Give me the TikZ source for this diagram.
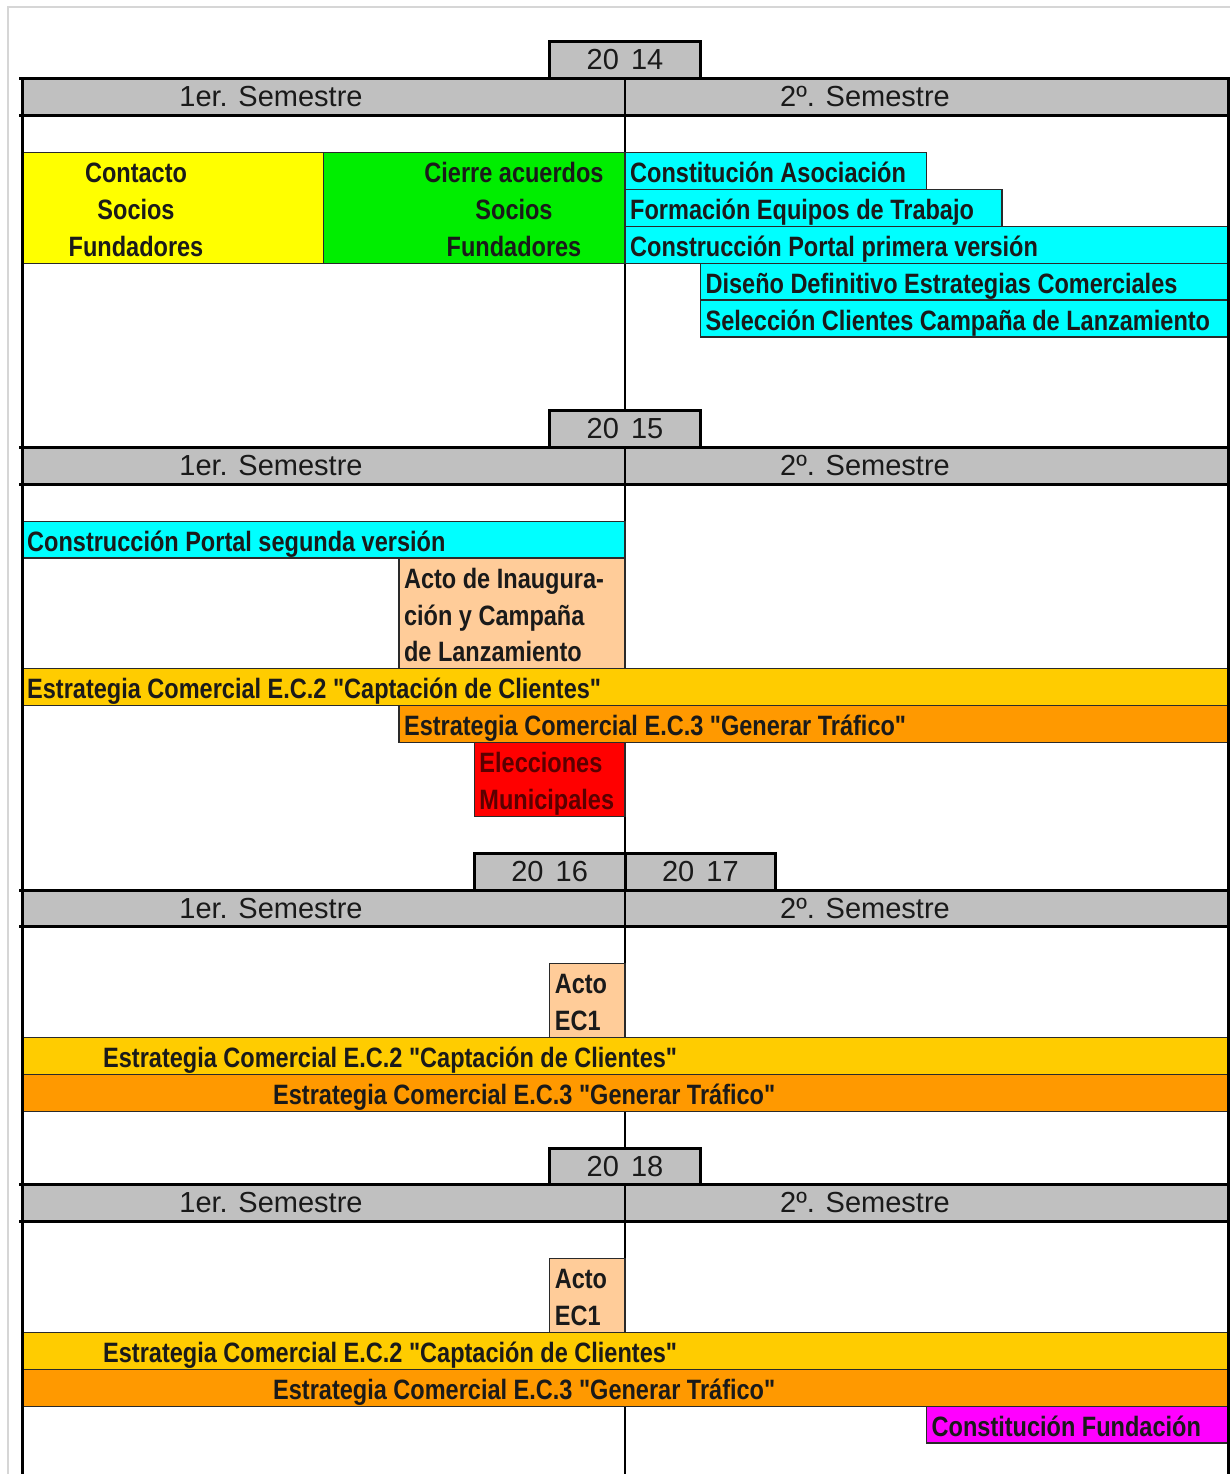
\documentclass[tikz,border=0pt]{standalone}
\usepackage{fontspec}
\setmainfont{Liberation Sans}
\newfontface\narrowbf[FakeStretch=0.84]{Liberation Sans Bold}
\definecolor{hdr}{HTML}{C0C0C0}
\definecolor{yel}{HTML}{FFFF00}
\definecolor{grn}{HTML}{00EE00}
\definecolor{cyn}{HTML}{00FFFF}
\definecolor{peach}{HTML}{FFCC99}
\definecolor{gold}{HTML}{FFCC00}
\definecolor{orng}{HTML}{FF9900}
\definecolor{rojo}{HTML}{FF0000}
\definecolor{mag}{HTML}{FF00FF}
\definecolor{edge}{HTML}{2A2A2A}
\definecolor{pageframe}{HTML}{D6D6D6}
\definecolor{ink}{HTML}{1A1A1A}
\definecolor{darkred}{HTML}{5A0000}
% grid: 16 columns from x=22 to x=1228, rows of 36.87 starting at y=42
\newcommand\X[1]{22+75.375*(#1)}
\newcommand\Y[1]{42+36.87*(#1)}
% task bar: columns c1..c2, rows r1..r2, fill colour
\newcommand\tbar[5]{\draw[bar,fill=#5] ({\X{#1}},{\Y{#3}}) rectangle ({\X{#2}},{\Y{#4}});}
% semester header band at row #1
\newcommand\semhead[2]{%
  \fill[hdr] ({\X{0}},{\Y{#1}}) rectangle ({\X{16}},{\Y{#1+1}});
  \node[semlbl] (#2a) at (271,{\Y{#1}+28}) {1er. Semestre};
  \node[semlbl] (#2b) at (865,{\Y{#1}+28}) {2º. Semestre};}
\newcommand\semrules[1]{%
  \draw[rule] (20.5,{\Y{#1}}) -- (1229.5,{\Y{#1}});
  \draw[rule] (20.5,{\Y{#1+1}}) -- (1229.5,{\Y{#1+1}});}
% year tab: columns c1..c2 at row r
\newcommand\yeartab[5]{%
  \fill[hdr] ({\X{#1}},{\Y{#3}}) rectangle ({\X{#2}},{\Y{#3+1}});
  \draw[rule] ({\X{#1}},{\Y{#3+1}}) -- ({\X{#1}},{\Y{#3}}) -- ({\X{#2}},{\Y{#3}}) -- ({\X{#2}},{\Y{#3+1}});
  \node[yearlbl] (#4) at ({(\X{#1}+\X{#2})/2},{\Y{#3}+28}) {20\hspace{0.42em}#5};}
\tikzset{
  bar/.style={draw=edge,line width=1.4pt},
  rule/.style={line width=3pt,line cap=rect},
  lbl/.style={font=\narrowbf\fontsize{28}{30}\selectfont,text=ink,inner sep=0pt,anchor=base west},
  clbl/.style={lbl,anchor=base},
  semlbl/.style={font=\fontsize{29}{32}\selectfont,text=ink,inner sep=0pt,anchor=base},
  yearlbl/.style={semlbl},
}
\begin{document}
\begin{tikzpicture}[x=1pt,y=-1pt]
\useasboundingbox (0,0) rectangle (1230,1474);
\fill[white] (0,0) rectangle (1230,1474);
% page frame
\draw[pageframe,line width=2pt] (8,1474) -- (8,7) -- (1230,7);

% semester header bands
\semhead{1}{s14}
\semhead{11}{s15}
\semhead{23}{s16}
\semhead{31}{s18}

% divider between semesters
\draw[line width=1.1pt] ({\X{8}},{\Y{1}}) -- ({\X{8}},1474);

% ---- 2014 ----
\yeartab{7}{9}{0}{y14}{14}
\tbar{0}{4}{3}{6}{yel}
\tbar{4}{8}{3}{6}{grn}
\tbar{8}{12}{3}{4}{cyn}
\tbar{8}{13}{4}{5}{cyn}
\tbar{8}{16}{5}{6}{cyn}
\tbar{9}{16}{6}{7}{cyn}
\tbar{9}{16}{7}{8}{cyn}
\node[clbl] (c1) at (136,{\Y{3}+30}) {Contacto};
\node[clbl] (c2) at (136,{\Y{4}+30}) {Socios};
\node[clbl] (c3) at (136,{\Y{5}+30}) {Fundadores};
\node[clbl] (g1) at (514,{\Y{3}+30}) {Cierre acuerdos};
\node[clbl] (g2) at (514,{\Y{4}+30}) {Socios};
\node[clbl] (g3) at (514,{\Y{5}+30}) {Fundadores};
\node[lbl] (t1) at ({\X{8}+5},{\Y{3}+30}) {Constitución Asociación};
\node[lbl] (t2) at ({\X{8}+5},{\Y{4}+30}) {Formación Equipos de Trabajo};
\node[lbl] (t3) at ({\X{8}+5},{\Y{5}+30}) {Construcción Portal primera versión};
\node[lbl] (t4) at ({\X{9}+5},{\Y{6}+30}) {Diseño Definitivo Estrategias Comerciales};
\node[lbl] (t5) at ({\X{9}+5},{\Y{7}+30}) {Selección Clientes Campaña de Lanzamiento};

% ---- 2015 ----
\yeartab{7}{9}{10}{y15}{15}
\tbar{0}{8}{13}{14}{cyn}
\tbar{5}{8}{14}{17}{peach}
\tbar{0}{16}{17}{18}{gold}
\tbar{5}{16}{18}{19}{orng}
\tbar{6}{8}{19}{21}{rojo}
\node[lbl] (u1) at ({\X{0}+5},{\Y{13}+30}) {Construcción Portal segunda versión};
\node[lbl] (u2) at ({\X{5}+5},{\Y{14}+30}) {Acto de Inaugura-};
\node[lbl] (u3) at ({\X{5}+5},{\Y{15}+30}) {ción y Campaña};
\node[lbl] (u4) at ({\X{5}+5},{\Y{16}+30}) {de Lanzamiento};
\node[lbl] (u5) at ({\X{0}+5},{\Y{17}+30}) {Estrategia Comercial E.C.2 "Captación de Clientes"};
\node[lbl] (u6) at ({\X{5}+5},{\Y{18}+30}) {Estrategia Comercial E.C.3 "Generar Tráfico"};
\node[lbl,text=darkred] (u7) at ({\X{6}+5},{\Y{19}+30}) {Elecciones};
\node[lbl,text=darkred] (u8) at ({\X{6}+5},{\Y{20}+30}) {Municipales};

% ---- 2016 / 2017 ----
\yeartab{6}{8}{22}{y16}{16}
\yeartab{8}{10}{22}{y17}{17}
\tbar{7}{8}{25}{27}{peach}
\tbar{0}{16}{27}{28}{gold}
\tbar{0}{16}{28}{29}{orng}
\node[lbl] (v1) at ({\X{7}+5},{\Y{25}+30}) {Acto};
\node[lbl] (v2) at ({\X{7}+5},{\Y{26}+30}) {EC1};
\node[lbl] (v3) at (103,{\Y{27}+30}) {Estrategia Comercial E.C.2 "Captación de Clientes"};
\node[lbl] (v4) at (273,{\Y{28}+30}) {Estrategia Comercial E.C.3 "Generar Tráfico"};

% ---- 2018 ----
\yeartab{7}{9}{30}{y18}{18}
\tbar{7}{8}{33}{35}{peach}
\tbar{0}{16}{35}{36}{gold}
\tbar{0}{16}{36}{37}{orng}
\tbar{12}{16}{37}{38}{mag}
\node[lbl] (w1) at ({\X{7}+5},{\Y{33}+30}) {Acto};
\node[lbl] (w2) at ({\X{7}+5},{\Y{34}+30}) {EC1};
\node[lbl] (w3) at (103,{\Y{35}+30}) {Estrategia Comercial E.C.2 "Captación de Clientes"};
\node[lbl] (w4) at (273,{\Y{36}+30}) {Estrategia Comercial E.C.3 "Generar Tráfico"};
\node[lbl] (w5) at ({\X{12}+5},{\Y{37}+30}) {Constitución Fundación};

% header rules and outer sides
\semrules{1}
\semrules{11}
\semrules{23}
\semrules{31}
\draw[line width=3pt] ({\X{0}},{\Y{1}}) -- ({\X{0}},1474);
\draw[line width=3pt] ({\X{16}},{\Y{1}}) -- ({\X{16}},1474);
\end{tikzpicture}
\end{document}
